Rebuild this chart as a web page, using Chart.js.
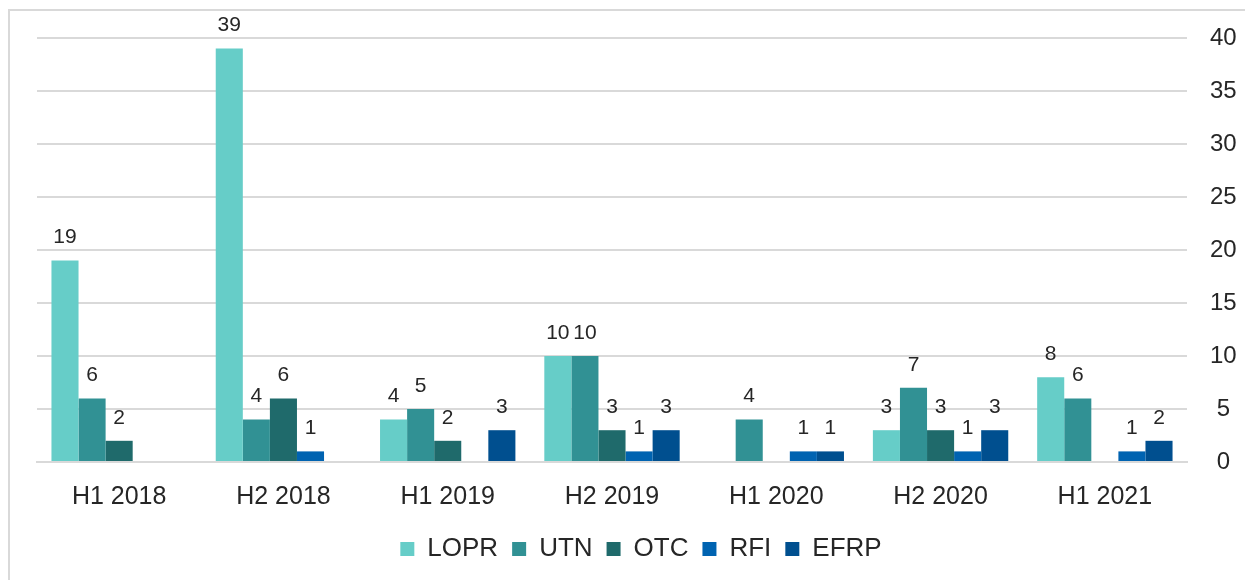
<!DOCTYPE html>
<html lang="en">
  <head>
  <meta charset="utf-8">
  <title>Chart</title>
  <script src="https://cdn.jsdelivr.net/npm/chart.js@4.4.1/dist/chart.umd.min.js"></script>
  <style>
    html, body{
      margin: 0;
      padding: 0;
      background: #fff;
      overflow: hidden;
    }
    #wrap{
      width: 1245px;
      height: 580px;
    }
  </style>
  </head>
  <body>
    <div id="wrap"><canvas id="myChart" width="1245" height="580"></canvas></div>
  </body>
  <script>
    // data
    const labels = ["H1 2018","H2 2018","H1 2019","H2 2019","H1 2020","H2 2020","H1 2021"];
    const lopr = [19, 39, 4, 10, 0, 3, 8];
    const utn  = [6, 4, 5, 10, 4, 7, 6];
    const otc  = [2, 6, 2, 3, 0, 3, 0];
    const rfi  = [0, 1, 0, 1, 1, 1, 1];
    const efrp = [0, 0, 3, 3, 1, 3, 2];
    const yTicks = [0, 5, 10, 15, 20, 25, 30, 35, 40];

    const font = "'Liberation Sans', Arial, sans-serif";
    const textColor = '#262626';
    const gridColor = '#d9d9d9';

    // frame around the chart (only left and top edges show)
    const framePlugin = {
      id: 'frame',
      beforeDraw(chart){
        const ctx = chart.ctx;
        ctx.save();
        ctx.fillStyle = '#fff';
        ctx.fillRect(0, 0, chart.width, chart.height);
        ctx.strokeStyle = gridColor;
        ctx.lineWidth = 2;
        ctx.beginPath();
        ctx.moveTo(9, chart.height);
        ctx.lineTo(9, 10);
        ctx.lineTo(chart.width, 10);
        ctx.stroke();
        ctx.restore();
      }
    };

    // value labels above bars
    const valuePlugin = {
      id: 'values',
      afterDatasetsDraw(chart){
        const ctx = chart.ctx;
        ctx.save();
        ctx.font = "21px " + font;
        ctx.fillStyle = textColor;
        ctx.textAlign = 'center';
        ctx.textBaseline = 'middle';
        chart.data.datasets.forEach((ds, i) => {
          const meta = chart.getDatasetMeta(i);
          meta.data.forEach((bar, j) => {
            const v = ds.data[j];
            if(!v) return;
            ctx.fillText(String(v), bar.x, bar.y - 23);
          });
        });
        ctx.restore();
      }
    };

    const data = {
      labels: labels,
      datasets: [
        {label: 'LOPR', data: lopr, backgroundColor: '#66cdc8'},
        {label: 'UTN',  data: utn,  backgroundColor: '#319194'},
        {label: 'OTC',  data: otc,  backgroundColor: '#1f6a6b'},
        {label: 'RFI',  data: rfi,  backgroundColor: '#0063b1'},
        {label: 'EFRP', data: efrp, backgroundColor: '#004f8f'}
      ]
    };

    const config = {
      type: 'bar',
      data: data,
      options: {
        responsive: false,
        animation: false,
        layout: {
          padding: {left: 37, right: 0, top: 38, bottom: 8}
        },
        datasets: {
          bar: {
            barPercentage: 1,
            categoryPercentage: 0.824,
            borderWidth: 0
          }
        },
        plugins: {
          legend: {
            position: 'bottom',
            labels: {
              font: {family: font, size: 26},
              color: textColor,
              boxWidth: 14,
              boxHeight: 14,
              padding: 14
            }
          },
          tooltip: {enabled: false}
        },
        scales: {
          x: {
            grid: {display: false, drawTicks: false},
            border: {display: true, color: gridColor, width: 2},
            ticks: {
              font: {family: font, size: 25},
              color: textColor,
              padding: 20,
              maxRotation: 0
            },
            afterFit(scale){ scale.height = 60; }
          },
          y: {
            position: 'right',
            min: 0,
            max: 40,
            afterBuildTicks(scale){
              scale.ticks = yTicks.map(v => ({value: v}));
            },
            grid: {color: gridColor, lineWidth: 2, drawTicks: false},
            border: {display: false},
            ticks: {
              font: {family: font, size: 24},
              color: textColor,
              padding: 23,
              crossAlign: 'center'
            },
            afterFit(scale){
              scale.width = 58;
              scale.paddingTop = 0;
              scale.paddingBottom = 0;
            }
          }
        }
      },
      plugins: [framePlugin, valuePlugin]
    };

    const myChart = new Chart(document.getElementById('myChart'), config);
  </script>
</html>
